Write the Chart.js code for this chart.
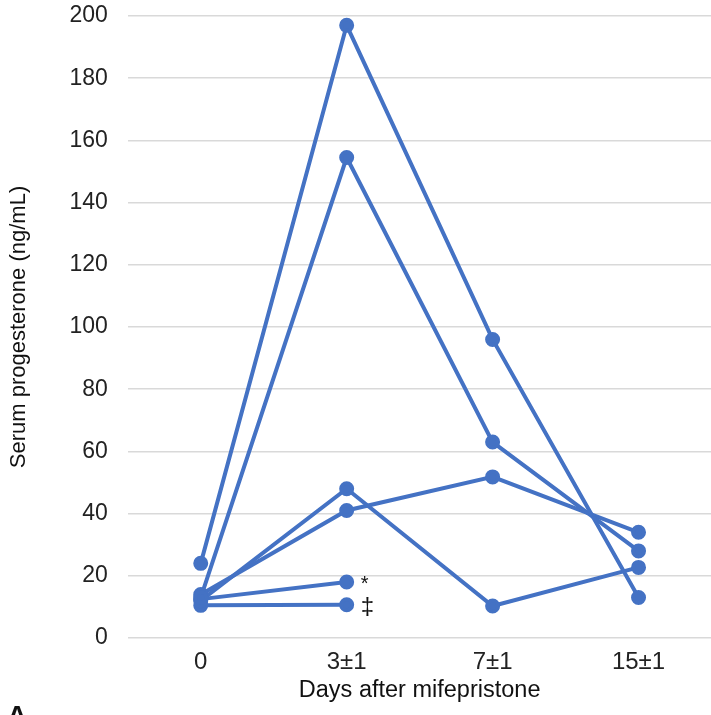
<!DOCTYPE html>
<html>
<head>
<meta charset="utf-8">
<script src="https://cdn.jsdelivr.net/npm/chart.js@4.4.1/dist/chart.umd.min.js"></script>
<style>
  html, body { margin: 0; padding: 0; background: #fff; overflow: hidden; }
  #wrap { width: 711px; height: 715px; overflow: hidden; }
  canvas { display: block; }
</style>
</head>
<body>
<div id="wrap"><canvas id="progChart" width="721" height="715"></canvas></div>
<script>
        // days after mifepristone
        const days = ['0', '3\u00b11', '7\u00b11', '15\u00b11'];
        const patientA = [24, 197, 96, 13];
        const patientB = [13, 154.5, 63, 28];
        const patientC = [12, 48, 10.3, 22.7];
        const patientD = [14, 41, 51.8, 34];
        const patientE = [12.5, 18, null, null];   // *
        const patientF = [10.5, 10.7, null, null]; // ‡
        const yTicks = [0, 20, 40, 60, 80, 100, 120, 140, 160, 180, 200];
        const marks = [{ series: 4, text: '*' }, { series: 5, text: '\u2021' }];

        const blue = '#4472C4';
        const regular = "'Liberation Sans', Arial, sans-serif";

        function line(values) {
            return {
                data: values,
                borderColor: blue,
                backgroundColor: blue,
                borderWidth: 4,
                pointRadius: 5.5,
                pointBackgroundColor: blue,
                pointBorderColor: blue,
                tension: 0,
                spanGaps: false
            };
        }

        // footnote symbols beside the last point, plus the panel letter
        const extras = {
            id: 'extras',
            afterDatasetsDraw(chart) {
                const c = chart.ctx;
                c.save();
                c.fillStyle = '#111';
                c.textBaseline = 'middle';
                c.textAlign = 'left';
                marks.forEach(m => {
                    const pts = chart.getDatasetMeta(m.series).data;
                    const p = pts[1];
                    c.font = m.text === '*' ? '20px ' + regular : '24px ' + regular;
                    c.fillText(m.text, p.x + 14, p.y + (m.text === '*' ? 2 : 3));
                });
                c.font = 'bold 28px ' + regular;
                c.textBaseline = 'top';
                c.fillText('A', 7, 703);
                c.restore();
            }
        };

        const ctxProg = document.getElementById('progChart');
        if (ctxProg && typeof Chart !== 'undefined') {
            new Chart(ctxProg, {
                type: 'line',
                data: {
                    labels: days,
                    datasets: [patientA, patientB, patientC, patientD, patientE, patientF].map(line)
                },
                options: {
                    responsive: false,
                    animation: false,
                    layout: { padding: { top: 0, right: 0, bottom: 4, left: 0 } },
                    plugins: {
                        legend: { display: false },
                        tooltip: { enabled: false }
                    },
                    scales: {
                        y: {
                            min: 0,
                            max: 200,
                            afterBuildTicks: axis => { axis.ticks = yTicks.map(v => ({ value: v })); },
                            afterFit: axis => { axis.paddingTop = 16; },
                            ticks: {
                                color: '#222',
                                padding: 20,
                                font: { family: regular, size: 23 }
                            },
                            grid: { color: '#d9d9d9', lineWidth: 1.5, drawTicks: false },
                            border: { display: false },
                            title: {
                                display: true,
                                text: 'Serum progesterone (ng/mL)',
                                color: '#111',
                                font: { family: regular, size: 22 },
                                padding: { top: 6, bottom: 17 }
                            }
                        },
                        x: {
                            offset: true,
                            afterFit: axis => { axis.paddingRight = 0; axis.paddingLeft = 0; },
                            ticks: {
                                color: '#222',
                                padding: 10,
                                font: { family: regular, size: 24 }
                            },
                            grid: { display: false, drawTicks: false },
                            border: { display: false },
                            title: {
                                display: true,
                                text: 'Days after mifepristone',
                                color: '#111',
                                font: { family: regular, size: 23.5 },
                                padding: { top: -10, bottom: 6 }
                            }
                        }
                    }
                },
                plugins: [extras]
            });
        }
</script>
</body>
</html>
